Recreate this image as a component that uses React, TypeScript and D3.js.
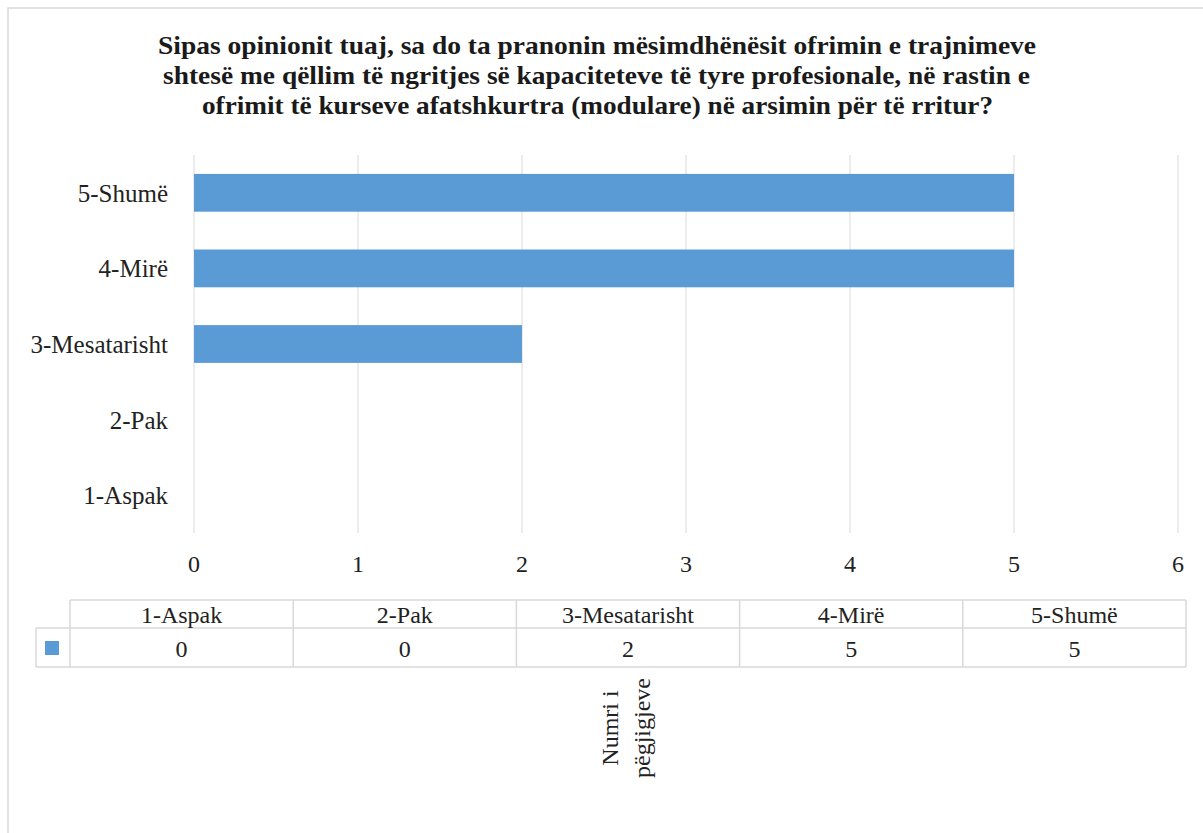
import React from 'react';
import * as d3 from 'd3';

// categories bottom -> top as in the table order
const categories = ['1-Aspak', '2-Pak', '3-Mesatarisht', '4-Mirë', '5-Shumë'];
const values = [0, 0, 2, 5, 5];
const xTicks = [0, 1, 2, 3, 4, 5, 6];
const titleLines = [
  'Sipas opinionit tuaj, sa do ta pranonin mësimdhënësit ofrimin e trajnimeve',
  'shtesë me qëllim të ngritjes së kapaciteteve të tyre profesionale, në rastin e',
  'ofrimit të kurseve afatshkurtra (modulare) në arsimin për të rritur?',
];
const axisTitle = ['Numri i', 'pëgjigjeve'];

const FONT = "'Liberation Serif', 'Times New Roman', serif";
const BAR = '#5b9bd5';
const GRID = '#d9d9d9';

export default function App() {
  const x = d3.scaleLinear().domain([0, 6]).range([194, 1178]);
  // top band is 5-Shumë
  const y = d3
    .scaleBand<string>()
    .domain([...categories].reverse())
    .range([155, 533])
    .paddingInner(0.5)
    .paddingOuter(0.25);

  const col = d3.scaleBand<string>().domain(categories).range([70, 1186]);

  // title line geometry (start x, fitted length)
  const titleX = [158, 163, 202];
  const titleW = [878, 867, 791];

  return (
    <svg
      width={1203}
      height={833}
      style={{ position: 'absolute', left: 0, top: 0, background: '#fff', fontFamily: FONT }}
    >
      <rect x={8} y={8} width={1400} height={1000} fill="#fff" stroke={GRID} strokeWidth={1.5} />

      {titleLines.map((t, i) => (
        <text
          key={i}
          x={titleX[i]}
          y={54 + i * 30}
          fontSize={25}
          fontWeight="bold"
          fill="#1a1a1a"
          textLength={titleW[i]}
          lengthAdjust="spacingAndGlyphs"
          style={{ fontFamily: FONT }}
        >
          {t}
        </text>
      ))}

      {/* vertical gridlines */}
      {xTicks.map((t) => (
        <line key={t} x1={x(t)} x2={x(t)} y1={155} y2={533} stroke={GRID} strokeWidth={1} />
      ))}

      {/* bars */}
      {categories.map((c, i) => (
        <rect
          key={c}
          x={x(0)}
          y={y(c)!}
          width={x(values[i]) - x(0)}
          height={y.bandwidth()}
          fill={BAR}
        />
      ))}

      {/* category labels */}
      {categories.map((c) => (
        <text
          key={c}
          x={168}
          y={y(c)! + y.bandwidth() / 2 + 9}
          textAnchor="end"
          fontSize={25}
          fill="#222"
          style={{ fontFamily: FONT }}
        >
          {c}
        </text>
      ))}

      {/* x tick labels */}
      {xTicks.map((t) => (
        <text key={t} x={x(t)} y={572} textAnchor="middle" fontSize={24} fill="#222" style={{ fontFamily: FONT }}>
          {t}
        </text>
      ))}

      {/* data table */}
      <g stroke={GRID} strokeWidth={1.5} fill="none">
        <line x1={70} x2={1186} y1={600} y2={600} />
        <line x1={36} x2={1186} y1={628} y2={628} />
        <line x1={36} x2={1186} y1={667} y2={667} />
        <line x1={36} x2={36} y1={628} y2={667} />
        {categories.map((c) => (
          <line key={c} x1={col(c)!} x2={col(c)!} y1={600} y2={667} />
        ))}
        <line x1={1186} x2={1186} y1={600} y2={667} />
      </g>
      <rect x={45} y={641} width={14} height={14} fill={BAR} />
      {categories.map((c, i) => (
        <g key={c} style={{ fontFamily: FONT }}>
          <text x={col(c)! + col.bandwidth() / 2} y={623} textAnchor="middle" fontSize={24} fill="#222">
            {c}
          </text>
          <text x={col(c)! + col.bandwidth() / 2} y={657} textAnchor="middle" fontSize={24} fill="#222">
            {values[i]}
          </text>
        </g>
      ))}

      {/* rotated axis title */}
      <text
        transform="translate(618,728) rotate(-90)"
        textAnchor="middle"
        fontSize={24}
        fill="#222"
        style={{ fontFamily: FONT }}
      >
        {axisTitle.map((t, i) => (
          <tspan key={i} x={0} dy={i === 0 ? 0 : 32}>
            {t}
          </tspan>
        ))}
      </text>
    </svg>
  );
}
